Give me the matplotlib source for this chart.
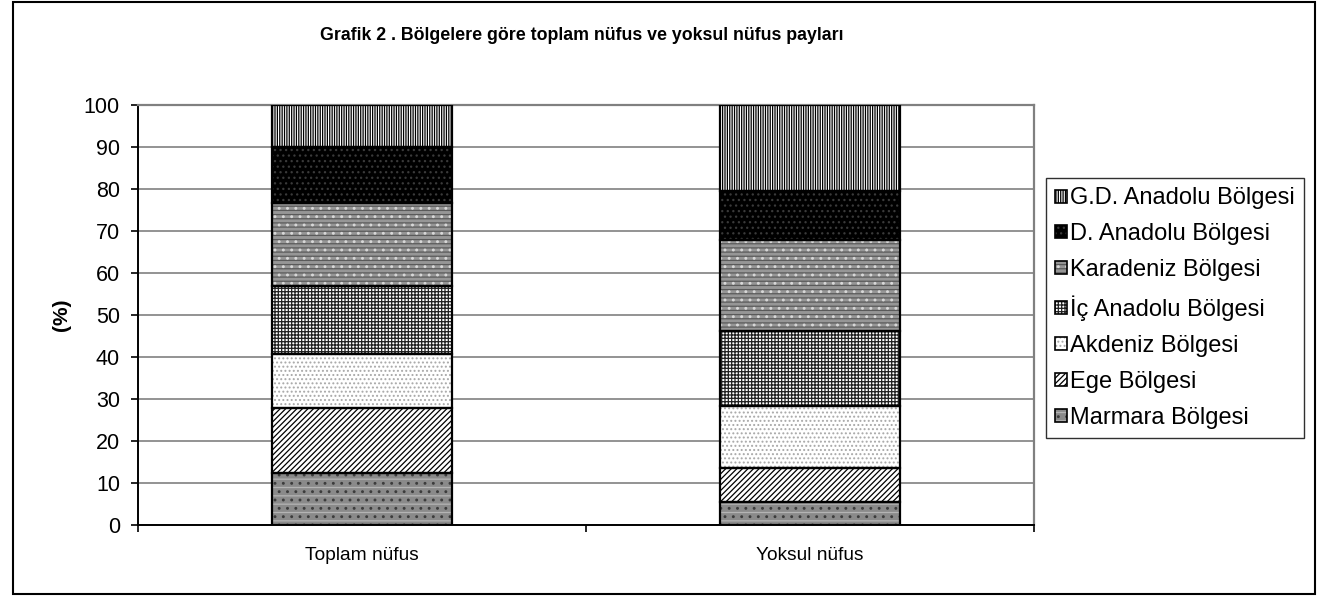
import numpy as np
import matplotlib.pyplot as plt
from matplotlib.patches import Patch, Rectangle

plt.rcParams['font.family'] = ['Liberation Sans', 'DejaVu Sans']
plt.rcParams['hatch.linewidth'] = 0.9

# veri (%), alttan uste
kategoriler = ['Toplam nüfus', 'Yoksul nüfus']
bolgeler = ['Marmara Bölgesi', 'Ege Bölgesi', 'Akdeniz Bölgesi', 'İç Anadolu Bölgesi',
            'Karadeniz Bölgesi', 'D. Anadolu Bölgesi', 'G.D. Anadolu Bölgesi']
toplam_nufus = [12.4, 15.5, 12.7, 16.2, 19.8, 13.4, 10.0]
yoksul_nufus = [5.5, 8.1, 14.8, 17.7, 21.7, 11.7, 20.5]

# her bolge icin desen katmanlari: (dolgu, tarama, tarama rengi)
desenler = [
    [('#8a8a8a', None, None), (None, '..', '#3c3c3c'), (None, '--', '#b4b4b4')],
    [('white', '//////', 'black')],
    [('white', '....', '#a8a8a8')],
    [('white', '+++++', '#202020')],
    [('#969696', None, None), (None, '----', '#5a5a5a'), (None, '..', '#d8d8d8')],
    [('black', '...', '#3a3a3a')],
    [('white', '|||||||', 'black')],
]

fig = plt.figure(figsize=(13.18, 5.96), dpi=100)
ax = fig.add_axes([138 / 1318, 71 / 596, 896 / 1318, 420 / 596])

x = np.arange(len(kategoriler))
veri = np.array([toplam_nufus, yoksul_nufus])
genislik = 0.4
handles = []
alt = np.zeros(len(kategoriler))
for i, bolge in enumerate(bolgeler):
    degerler = veri[:, i]
    parcalar = []
    for dolgu, tarama, renk in desenler[i]:
        if tarama is None:
            kw = dict(facecolor=dolgu, edgecolor='none')
        else:
            kw = dict(facecolor=dolgu if dolgu else 'none', edgecolor=renk, hatch=tarama)
        ax.bar(x, degerler, genislik, bottom=alt, linewidth=0, zorder=2, **kw)
        parcalar.append(Patch(linewidth=0, **kw))
    ax.bar(x, degerler, genislik, bottom=alt, facecolor='none', edgecolor='black',
           linewidth=1.6, zorder=3)
    parcalar.append(Patch(facecolor='none', edgecolor='black', linewidth=1.2))
    handles.append(tuple(parcalar))
    alt += degerler

ax.set_xlim(-0.5, 1.5)
ax.set_ylim(0, 100)
ax.set_yticks(np.arange(0, 101, 10))
ax.yaxis.grid(True, color='#808080', linewidth=1.2, zorder=0)
ax.set_axisbelow(True)

ax.set_xticks([-0.5, 0.5, 1.5])
ax.set_xticklabels([])
ax.set_xticks(x, minor=True)
ax.set_xticklabels(kategoriler, minor=True)
ax.tick_params(axis='x', which='minor', length=0, pad=16, labelsize=13.8)
ax.tick_params(axis='x', which='major', length=5, width=1.2, direction='out')
ax.tick_params(axis='y', length=5, width=1.2, direction='out', pad=8, labelsize=15.5)

for s in ['top', 'right']:
    ax.spines[s].set_color('#808080')
    ax.spines[s].set_linewidth(1.6)
for s in ['left', 'bottom']:
    ax.spines[s].set_color('black')
    ax.spines[s].set_linewidth(1.4)

ax.set_ylabel('(%)', fontsize=15, fontweight='bold')
ax.yaxis.set_label_coords(-0.075, 0.5)

fig.text(582 / 1318, 1 - 35 / 596, 'Grafik 2 . Bölgelere göre toplam nüfus ve yoksul nüfus payları',
         ha='center', va='center', fontsize=12.8, fontweight='bold')

leg = fig.legend(handles[::-1], bolgeler[::-1], loc='upper left',
                 bbox_to_anchor=(1046 / 1318, 1 - 178 / 596), fontsize=17,
                 frameon=True, fancybox=False, edgecolor='#303030', framealpha=1,
                 handlelength=0.47, handleheight=0.47, handletextpad=0.15,
                 labelspacing=0.59, borderpad=0.4, borderaxespad=0)
leg.get_frame().set_linewidth(1.0)

# dis cerceve
fig.patches.append(Rectangle((13 / 1318, 2 / 596), 1302 / 1318, 592 / 596,
                             transform=fig.transFigure, fill=False,
                             edgecolor='black', linewidth=1.5))

fig.savefig('out.png', dpi=100)
